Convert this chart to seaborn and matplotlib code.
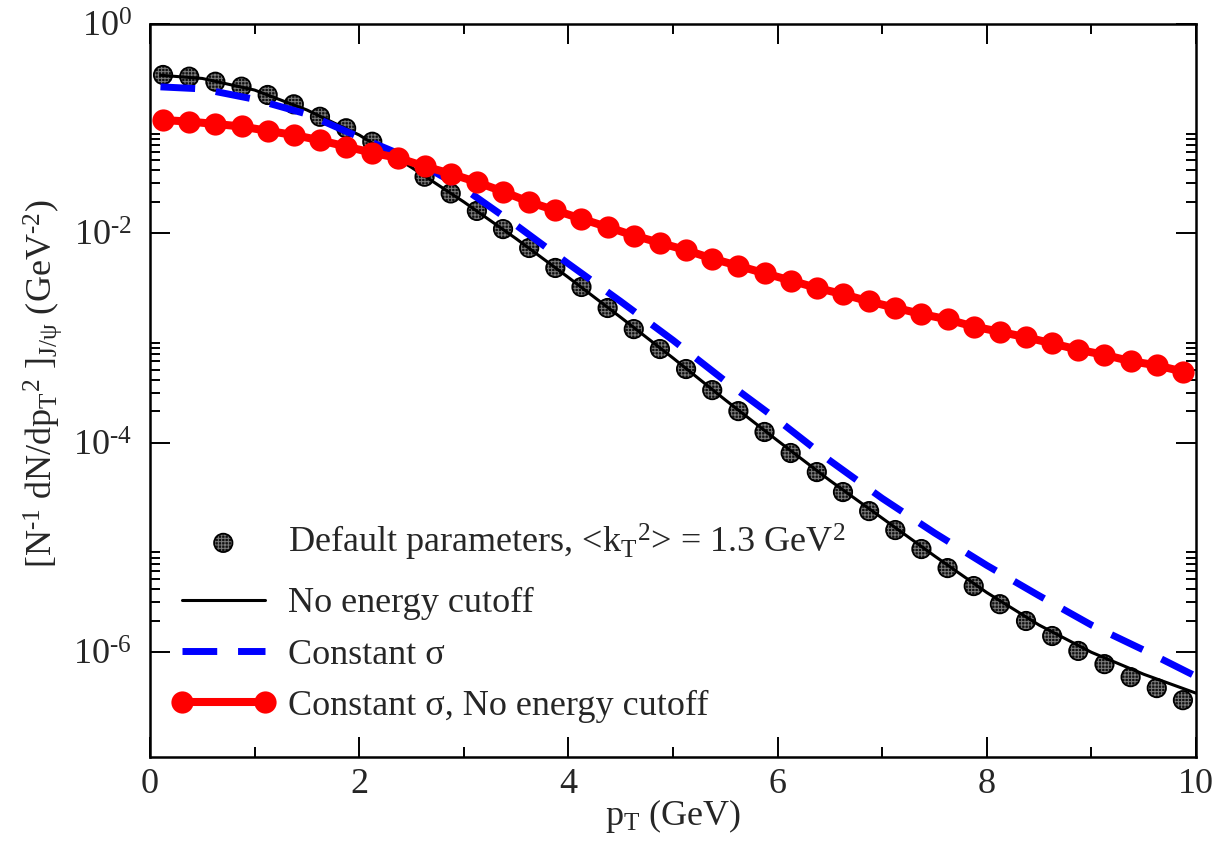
import matplotlib
matplotlib.use("Agg")
import matplotlib.pyplot as plt
import seaborn as sns
import numpy as np
from matplotlib.ticker import FixedLocator, FixedFormatter, NullFormatter
from matplotlib.legend_handler import HandlerTuple

# ---------------- data ----------------
pt_points = [0.125, 0.375, 0.625, 0.875, 1.125, 1.375, 1.625, 1.875, 2.125, 2.375,
             2.625, 2.875, 3.125, 3.375, 3.625, 3.875, 4.125, 4.375, 4.625, 4.875,
             5.125, 5.375, 5.625, 5.875, 6.125, 6.375, 6.625, 6.875, 7.125, 7.375,
             7.625, 7.875, 8.125, 8.375, 8.625, 8.875, 9.125, 9.375, 9.625, 9.875]

default_params = [0.326, 0.314, 0.281, 0.252, 0.210, 0.171, 0.130, 0.101, 0.0751, 0.0514,
                  0.0348, 0.0241, 0.0164, 0.0110, 0.00726, 0.00468, 0.00308, 0.00194, 0.00122, 7.87e-4,
                  5.07e-4, 3.19e-4, 2.01e-4, 1.27e-4, 8.0e-5, 5.26e-5, 3.39e-5, 2.23e-5, 1.47e-5, 9.68e-6,
                  6.37e-6, 4.29e-6, 2.88e-6, 1.99e-6, 1.43e-6, 1.03e-6, 7.71e-7, 5.79e-7, 4.55e-7, 3.49e-7]

const_sigma_no_cut = [0.121, 0.117, 0.111, 0.105, 0.0955, 0.0871, 0.0776, 0.0676, 0.0589, 0.0525,
                      0.0437, 0.0372, 0.0309, 0.0251, 0.0200, 0.0166, 0.0138, 0.0115, 0.00955, 0.00813,
                      0.00692, 0.00575, 0.00490, 0.00417, 0.00355, 0.00302, 0.00263, 0.00224, 0.00195, 0.00170,
                      0.00151, 0.00129, 0.00115, 0.00102, 8.91e-4, 7.76e-4, 6.92e-4, 6.03e-4, 5.50e-4, 4.79e-4]

pt_curve = [0.1, 0.5, 1.0, 1.5, 2.0, 2.5, 3.0, 3.5, 4.0, 4.5, 5.0,
            5.5, 6.0, 6.5, 7.0, 7.5, 8.0, 8.5, 9.0, 9.5, 10.0]

no_energy_cutoff = [0.324, 0.302, 0.234, 0.151, 0.0871, 0.0427, 0.0200, 0.00891, 0.00380, 0.00158, 6.46e-4,
                    2.57e-4, 1.05e-4, 4.37e-5, 1.91e-5, 8.32e-6, 3.72e-6, 1.82e-6, 1.00e-6, 6.17e-7, 4.07e-7]

constant_sigma = [0.251, 0.240, 0.191, 0.138, 0.0832, 0.0513, 0.0269, 0.0120, 0.00513, 0.00224, 9.55e-4,
                  3.89e-4, 1.66e-4, 6.76e-5, 2.95e-5, 1.38e-5, 6.76e-6, 3.47e-6, 1.82e-6, 1.05e-6, 5.89e-7]

y_major = [1e0, 1e-2, 1e-4, 1e-6]
y_major_labels = [r"$\mathregular{10^{0}}$", r"$\mathregular{10^{\text{-2}}}$",
                  r"$\mathregular{10^{\text{-4}}}$", r"$\mathregular{10^{\text{-6}}}$"]
y_minor = [k * d for d in (1e-2, 1e-4, 1e-6) for k in range(2, 10)]
x_major = [0, 2, 4, 6, 8, 10]
x_minor = [1, 3, 5, 7, 9]

labels = [r"Default parameters, <k$_{\mathrm{T}}$$^{2}$> = 1.3 GeV$^{2}$",
          "No energy cutoff",
          "Constant σ",
          "Constant σ, No energy cutoff"]

# ---------------- style ----------------
sns.set_theme(style="ticks")
plt.rcParams.update({
    "font.family": ["Liberation Serif", "DejaVu Serif"],
    "mathtext.fontset": "custom",
    "mathtext.rm": "Liberation Serif",
    "mathtext.it": "Liberation Serif:italic",
    "mathtext.bf": "Liberation Serif:bold",
    "hatch.linewidth": 0.7,
    "axes.linewidth": 1.8,
})

W, H = 1229, 844
fig = plt.figure(figsize=(W / 100, H / 100), dpi=100)
L, R, T, B = 150, 1196, 24, 757
ax = fig.add_axes([L / W, 1 - B / H, (R - L) / W, (B - T) / H])

FS = 26

# dotted (hatched) black points
sns.scatterplot(x=pt_points, y=default_params, ax=ax, s=175, color="#111111",
                edgecolor="#7a7a7a", linewidth=0, hatch="+++++", zorder=2)
sc1 = ax.collections[-1]
sns.scatterplot(x=pt_points, y=default_params, ax=ax, s=175, color="black",
                facecolor="none", edgecolor="black", linewidth=1.3, zorder=2.1)
sc2 = ax.collections[-1]

sns.lineplot(x=pt_curve, y=no_energy_cutoff, ax=ax, color="black", lw=2.2,
             estimator=None, zorder=3)
ln_black = ax.lines[-1]

sns.lineplot(x=pt_curve, y=constant_sigma, ax=ax, color="#0000ff", lw=5.0,
             estimator=None, zorder=4)
ln_blue = ax.lines[-1]
ln_blue.set_dashes((5, 3))
ln_blue.set_dash_capstyle("butt")

sns.lineplot(x=pt_points, y=const_sigma_no_cut, ax=ax, color="#ff0000", lw=5.8,
             marker="o", markersize=16, markeredgecolor="#ff0000", markeredgewidth=0,
             estimator=None, zorder=5)
ln_red = ax.lines[-1]

ax.set_yscale("log")
ax.set_xlim(0, 10)
ax.set_ylim(1e-7, 1)

ax.xaxis.set_major_locator(FixedLocator(x_major))
ax.xaxis.set_minor_locator(FixedLocator(x_minor))
ax.yaxis.set_major_locator(FixedLocator(y_major))
ax.yaxis.set_major_formatter(FixedFormatter(y_major_labels))
ax.yaxis.set_minor_locator(FixedLocator(y_minor))
ax.yaxis.set_minor_formatter(NullFormatter())

ax.tick_params(which="both", direction="in", top=True, right=True, color="black")
ax.tick_params(which="major", length=14.4, width=1.4, labelsize=26)
ax.tick_params(which="minor", length=7.2, width=1.4)
ax.tick_params(axis="x", which="major", pad=8)
ax.tick_params(axis="y", which="major", pad=13)
for s in ax.spines.values():
    s.set_color("black")
    s.set_linewidth(1.8)

ax.set_xlabel(r"p$_{\mathrm{T}}$ (GeV)", fontsize=FS)
ax.xaxis.set_label_coords(0.5, -0.055)
ax.xaxis.label.set_va("top")
ax.set_ylabel(r"[N$^{\text{-1}}$ dN/dp$_{\mathrm{T}}$$^{2}$ ]$_{\mathrm{J/ψ}}$ (GeV$^{\text{-2}}$)",
              fontsize=FS)
ax.yaxis.set_label_coords(-0.082, 0.51)

common = dict(handler_map={tuple: HandlerTuple(ndivide=1)}, bbox_transform=ax.transAxes,
              borderaxespad=0, borderpad=0, frameon=False, fontsize=FS,
              numpoints=2, scatterpoints=1, handlelength=2.9, handletextpad=0.33,
              labelspacing=0.5)

leg1 = ax.legend([(sc1, sc2)], labels[:1], loc="center left",
                 bbox_to_anchor=(0.020, (B - 542) / (B - T)), **common)
ax.add_artist(leg1)
leg2 = ax.legend([ln_black, ln_blue, ln_red], labels[1:], loc="center left",
                 bbox_to_anchor=(0.020, (B - 655) / (B - T)), **common)

fig.savefig("out.png", dpi=100)
